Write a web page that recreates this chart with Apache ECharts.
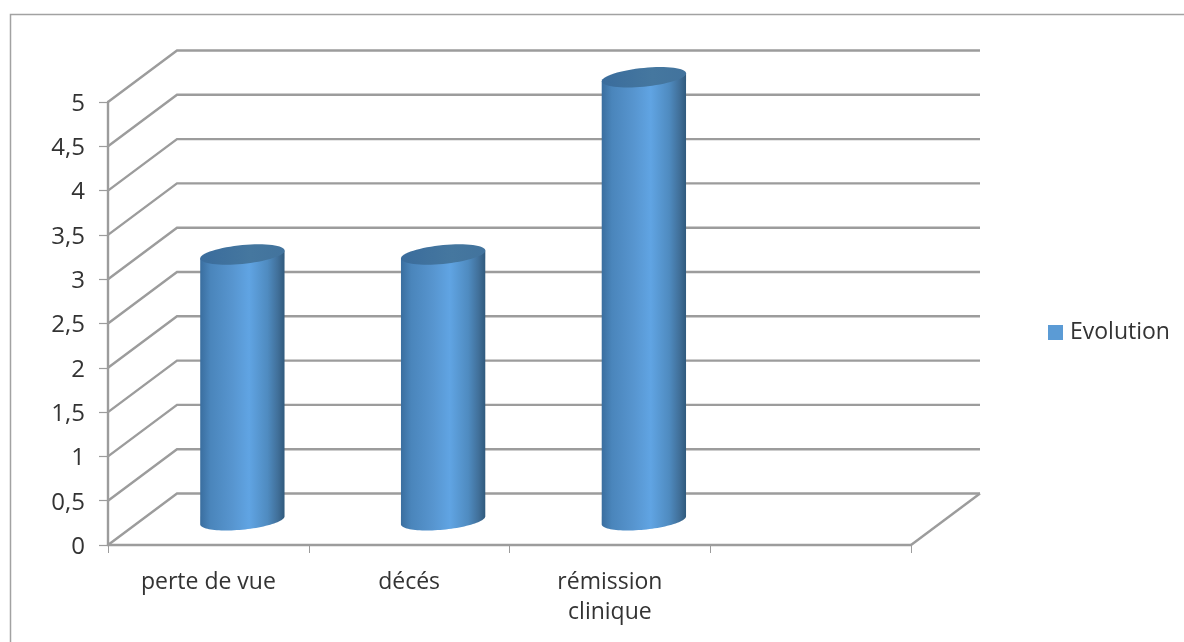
<!DOCTYPE html>
<html>
<head>
<meta charset="utf-8">
<style>html,body{margin:0;padding:0;background:#fff}#chart{width:1184px;height:642px}</style>
<script src="https://cdn.jsdelivr.net/npm/echarts@6/dist/echarts.min.js"></script>
</head>
<body>
<div id="chart"></div>
<script>
// Patient outcome counts, drawn as a pseudo-3D cylinder column chart
const categories = ['perte de vue', 'décés', 'rémission\nclinique', ''];
const evolution = [3, 3, 5];
const yTicks = [0, 0.5, 1, 1.5, 2, 2.5, 3, 3.5, 4, 4.5, 5];
const seriesName = 'Evolution';

const DEPTH_X = 69, DEPTH_Y = 51.5;   // offset of the back wall from the front plane
const LINE = '#9c9c9c';
const FONT = 'Open Sans';
const TILT = 0.095;

const chart = echarts.init(document.getElementById('chart'), null, {renderer: 'canvas'});

function wallItem(params, api) {
  const v = api.value(0);
  const y = api.coord([0, v])[1];
  const cs = params.coordSys;
  const x0 = cs.x, x1 = cs.x + cs.width;
  const pts = [[x0, y], [x0 + DEPTH_X, y - DEPTH_Y], [x1 + DEPTH_X, y - DEPTH_Y]];
  const children = [{
    type: 'polyline', shape: {points: pts},
    style: {stroke: LINE, lineWidth: 2.4, fill: null}
  }];
  if (v === 0) {
    children.push({
      type: 'polyline',
      shape: {points: [[x1, y], [x1 + DEPTH_X, y - DEPTH_Y]]},
      style: {stroke: LINE, lineWidth: 2.4, fill: null}
    });
  }
  return {type: 'group', children};
}

// Point on a tilted ellipse at angle t
function ellipsePoint(cx, cy, a, b, t) {
  return [cx + a * Math.cos(t), cy - a * Math.cos(t) * TILT + b * Math.sin(t)];
}

function arc(cx, cy, a, b, from, to, n) {
  const out = [];
  for (let i = 0; i <= n; i++) {
    out.push(ellipsePoint(cx, cy, a, b, from + (to - from) * i / n));
  }
  return out;
}

function cylinderItem(params, api) {
  const top = api.coord([api.value(0), api.value(1)]);
  const base = api.coord([api.value(0), 0]);
  const a = api.size([1, 0])[0] * 0.21;
  const b = 9.4;
  const dx = DEPTH_X / 2, dy = DEPTH_Y * 0.48;
  const cx = top[0] + dx - 0.5, yTop = top[1] - dy, yBase = base[1] - dy;
  const body = [ellipsePoint(cx, yTop, a, b, Math.PI)]
    .concat(arc(cx, yBase, a, b, Math.PI, 0, 48))
    .concat([ellipsePoint(cx, yTop, a, b, 0)]);
  return {
    type: 'group',
    children: [{
      type: 'polygon', shape: {points: body},
      style: {
        fill: new echarts.graphic.LinearGradient(0, 0, 1, 0, [
          {offset: 0, color: '#3a6e9f'},
          {offset: 0.12, color: '#4a85bb'},
          {offset: 0.38, color: '#5795cf'},
          {offset: 0.58, color: '#60a4e3'},
          {offset: 0.8, color: '#4f8bc0'},
          {offset: 0.92, color: '#41709a'},
          {offset: 1, color: '#305a7d'}
        ])
      }
    }, {
      type: 'polygon',
      shape: {points: arc(cx, yTop, a, b, 0, Math.PI * 2, 64)},
      style: {
        fill: new echarts.graphic.LinearGradient(0, 0, 1, 0, [
          {offset: 0, color: '#3a6c9c'},
          {offset: 0.6, color: '#45779f'},
          {offset: 1, color: '#42739d'}
        ])
      }
    }]
  };
}

chart.setOption({
  animation: false,
  backgroundColor: '#ffffff',
  grid: {left: 108, top: 102, width: 803, height: 443, containLabel: false},
  legend: {
    left: 1048, top: 321, padding: 0, orient: 'vertical', itemWidth: 15, itemHeight: 15,
    data: [{name: seriesName, icon: 'rect', itemStyle: {color: '#5b9bd5'}}],
    textStyle: {fontFamily: FONT, fontSize: 23, color: '#333333', padding: [0, 0, 0, 2]}
  },
  xAxis: {
    type: 'category',
    data: categories,
    axisLine: {lineStyle: {color: LINE, width: 2.4}},
    axisTick: {show: true, length: 8, lineStyle: {color: LINE, width: 1}},
    axisLabel: {
      fontFamily: FONT, fontSize: 23, color: '#333333',
      margin: 22, lineHeight: 30, interval: 0
    }
  },
  yAxis: {
    type: 'value', min: 0, max: 5, interval: 0.5,
    axisLine: {show: true, lineStyle: {color: LINE, width: 2.4}},
    axisTick: {show: true, length: 9, lineStyle: {color: LINE, width: 1.2}},
    splitLine: {show: false},
    axisLabel: {
      fontFamily: FONT, fontSize: 24, color: '#333333', margin: 23,
      verticalAlign: 'top', lineHeight: 4,
      formatter: v => String(v).replace('.', ',')
    }
  },
  series: [{
    name: 'walls', type: 'custom', silent: true, z: 1,
    coordinateSystem: 'cartesian2d',
    encode: {y: 0},
    data: yTicks.map(v => [v]),
    renderItem: wallItem
  }, {
    name: seriesName, type: 'custom', z: 3,
    coordinateSystem: 'cartesian2d',
    itemStyle: {color: '#5b9bd5'},
    encode: {x: 0, y: 1},
    data: evolution.map((v, i) => [i, v]),
    clip: false,
    renderItem: cylinderItem
  }],
  graphic: [{
    type: 'polyline', silent: true,
    shape: {points: [[10.5, 642], [10.5, 14.5], [1184, 14.5]]},
    style: {stroke: '#a2a2a2', lineWidth: 1.5, fill: null}
  }]
});
</script>
</body>
</html>
